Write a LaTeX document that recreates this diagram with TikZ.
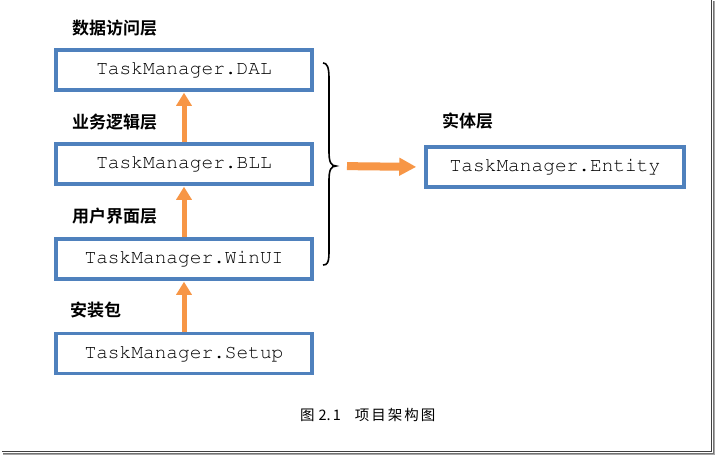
\documentclass[tikz,border=0pt]{standalone}
\usepackage{fontspec}
\newfontfamily\cjk{Noto Sans CJK SC}
\newfontfamily\cjkb{Noto Sans CJK SC Bold}
\newcommand{\courierfont}{\fontencoding{T1}\fontfamily{pcr}\selectfont}
\usetikzlibrary{arrows.meta}
\definecolor{boxblue}{HTML}{4F81BD}
\definecolor{arrorange}{HTML}{F79646}
\tikzset{
  layerbox/.style={draw=boxblue, line width=3.5pt, fill=white, minimum width=256pt, minimum height=40pt, inner sep=0pt, font=\courierfont\fontsize{19.5}{20}\selectfont},
  layerlabel/.style={anchor=west, inner sep=0pt, font=\cjkb\fontsize{17}{17}\selectfont},
  uparrow/.style={draw=arrorange, line width=5pt, -{Triangle[width=15pt,length=13pt]}, shorten >=1pt},
  bigarrow/.style={draw=arrorange, line width=8pt, -{Triangle[width=17pt,length=17pt]}},
}
\begin{document}
\begin{tikzpicture}[x=1pt,y=-1pt]
\useasboundingbox (0,0) rectangle (715,455);
\fill[white] (0,0) rectangle (715,455);
% frame shadow
\draw[line width=1pt, black!35] (3,454) -- (714,454) -- (714,1);
\draw[line width=1pt, black!55] (3,453) -- (713,453) -- (713,1);
\draw[line width=1.5pt, black!75] (2,451.5) -- (711.5,451.5) -- (711.5,0);

\node[layerbox] (dal) at (184,70) {TaskManager.DAL};
\node[layerbox] (bll) at (184,164) {TaskManager.BLL};
\node[layerbox] (winui) at (184,259) {TaskManager.WinUI};
\node[layerbox] (setup) at (184,353.5) {TaskManager.Setup};
\node[layerbox, minimum width=258pt] (entity) at (555,167) {TaskManager.Entity};

\node[layerlabel] (ldal) at (72,28) {数据访问层};
\node[layerlabel] (lbll) at (72,122) {业务逻辑层};
\node[layerlabel] (lui) at (72,216) {用户界面层};
\node[layerlabel] (lsetup) at (70,310) {安装包};
\node[layerlabel] (lentity) at (442,121) {实体层};
\node[anchor=west, inner sep=0pt, font=\cjk\fontsize{14.5}{15}\selectfont] (caption) at (300,415) {图\hspace{4pt}2.\hspace{2pt}1\hspace{14pt}项\kern2pt目\kern2pt架\kern2pt构\kern2pt图};

\draw[uparrow] (bll.north) -- (dal.south);
\draw[uparrow] (winui.north) -- (bll.south);
\draw[uparrow] (setup.north) -- (winui.south);

% brace
\coordinate (btop) at (323,63);
\coordinate (bbot) at (323,265);
\coordinate (btip) at (336,166);
\draw[line width=1.6pt, black] (btop) .. controls (327,63) and (329,67) .. (329,78)
  -- (329,152) .. controls (329,162) and (331,166) .. (btip)
  .. controls (331,166) and (329,170) .. (329,180)
  -- (329,252) .. controls (329,263) and (327,265) .. (bbot);

\draw[bigarrow, shorten <=11pt, shorten >=8pt] (btip) -- (entity.west);
\end{tikzpicture}
\end{document}
